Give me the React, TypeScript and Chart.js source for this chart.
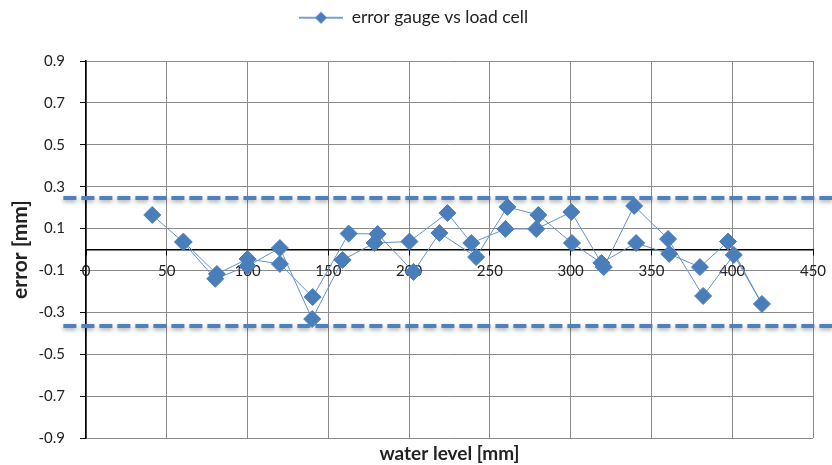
import React, { useEffect, useRef } from "react";
import { Chart, registerables } from "chart.js";

Chart.register(...registerables);

// water level [mm] of each measurement, in acquisition order (up pass, then down pass)
const waterLevel = [
  41, 60, 80, 100, 120, 140, 158.8, 178.6, 200.2, 223.7, 238.5, 259.6, 278.7, 300.4, 320.5, 339.3, 360.3, 382, 401, 418.4,
  397.4, 380, 361, 340.5, 319, 300.8, 280, 260.8, 241.5, 218.8, 202.7, 180.5, 162.6, 140.3, 120, 100, 81, 60.5,
];
// error gauge vs load cell [mm]
const gaugeError = [
  0.165, 0.036, -0.14, -0.079, 0.007, -0.332, -0.05, 0.031, 0.038, 0.174, 0.031, 0.098, 0.098, 0.179, -0.084, 0.208, 0.05, -0.222, -0.026, -0.26,
  0.038, -0.084, -0.021, 0.031, -0.064, 0.031, 0.165, 0.203, -0.036, 0.079, -0.107, 0.074, 0.076, -0.227, -0.069, -0.045, -0.117, 0.036,
];
// dashed limit lines
const upperLimit = 0.246;
const lowerLimit = -0.365;
const limitSpan = [-14, 462];

const yTicks = [-0.9, -0.7, -0.5, -0.3, -0.1, 0.1, 0.3, 0.5, 0.7, 0.9];
const xMin = 0;
const xMax = 450;
const xStep = 50;

const seriesLabel = "error gauge vs load cell";
const xTitle = "water level [mm]";
const yTitle = "error [mm]";

const BLUE = "#4F81BD";
const MARK = "#4A7EBB";
const GRID = "#8a8a8a";
const TEXT = "#222222";
const FONT = "Lato";

const ICON_W = 58;
const ICON_LEAD = 14;

function makeLegendIcon() {
  const c = document.createElement("canvas");
  c.width = ICON_W;
  c.height = 14;
  const ctx = c.getContext("2d")!;
  ctx.strokeStyle = BLUE;
  ctx.lineWidth = 1.5;
  ctx.beginPath();
  ctx.moveTo(ICON_LEAD, 7);
  ctx.lineTo(ICON_W, 7);
  ctx.stroke();
  const cx = ICON_LEAD + (ICON_W - ICON_LEAD) / 2;
  ctx.fillStyle = MARK;
  ctx.beginPath();
  ctx.moveTo(cx, 1);
  ctx.lineTo(cx + 6, 7);
  ctx.lineTo(cx, 13);
  ctx.lineTo(cx - 6, 7);
  ctx.closePath();
  ctx.fill();
  return c;
}

const shadowPlugin = {
  id: "limitShadow",
  beforeDatasetDraw(chart: any, args: any) {
    if (args.index === 0) return;
    const ctx = chart.ctx;
    ctx.save();
    ctx.shadowColor = "rgba(0,0,0,0.35)";
    ctx.shadowBlur = 4;
    ctx.shadowOffsetY = 2;
  },
  afterDatasetDraw(chart: any, args: any) {
    if (args.index === 0) return;
    chart.ctx.restore();
  },
};

export default function App() {
  const ref = useRef<HTMLCanvasElement | null>(null);

  useEffect(() => {
    if (!ref.current) return;
    const points = waterLevel.map((x, i) => ({ x, y: gaugeError[i] }));
    const upper = limitSpan.map((x) => ({ x, y: upperLimit }));
    const lower = limitSpan.map((x) => ({ x, y: lowerLimit }));
    const font = { family: FONT, size: 15 };
    const icon = makeLegendIcon();

    const chart = new Chart(ref.current, {
      type: "scatter",
      data: {
        datasets: [
          {
            label: seriesLabel,
            data: points,
            showLine: true,
            borderColor: "#6690C8",
            borderWidth: 1,
            backgroundColor: MARK,
            pointBackgroundColor: MARK,
            pointBorderColor: MARK,
            pointBorderWidth: 1,
            pointStyle: "rectRot",
            pointRadius: 8.5,
          },
          {
            label: "upper",
            data: upper,
            showLine: true,
            borderColor: BLUE,
            borderWidth: 4,
            borderDash: [13, 5],
            pointRadius: 0,
            clip: false,
          } as any,
          {
            label: "lower",
            data: lower,
            showLine: true,
            borderColor: BLUE,
            borderWidth: 4,
            borderDash: [13, 5],
            pointRadius: 0,
            clip: false,
          } as any,
        ],
      },
      options: {
        animation: false,
        responsive: true,
        maintainAspectRatio: false,
        layout: { padding: { top: 0, right: 19, bottom: 0, left: 0 } },
        plugins: {
          tooltip: { enabled: false },
          legend: {
            position: "top",
            labels: {
              usePointStyle: true,
              pointStyle: icon as any,
              pointStyleWidth: ICON_W,
              padding: 9,
              color: TEXT,
              font: { family: FONT, size: 17.5 },
              filter: (item: any) => item.datasetIndex === 0,
            },
          },
        },
        scales: {
          x: {
            type: "linear",
            min: xMin,
            max: xMax,
            position: { y: 0 } as any,
            afterFit: (s: any) => {
              s.paddingRight = 0;
              s.paddingLeft = 0;
            },
            ticks: { stepSize: xStep, padding: 8, color: TEXT, font },
            grid: { color: GRID, lineWidth: 1, tickLength: 5, tickColor: "#000" },
            border: { color: "#000", width: 1.5 },
          },
          y: {
            type: "linear",
            min: -0.9,
            max: 0.9,
            position: "left",
            afterBuildTicks: (s: any) => {
              s.ticks = yTicks.map((v) => ({ value: v }));
            },
            afterFit: (s: any) => {
              s.width = 86;
            },
            ticks: { padding: 15, color: TEXT, font, callback: (v: any) => String(Math.round(v * 10) / 10) },
            grid: { color: GRID, lineWidth: 1, tickLength: 6, tickColor: "#000" },
            border: { color: "#000", width: 1.5 },
            title: {
              display: true,
              text: yTitle,
              color: TEXT,
              font: { family: FONT, size: 21, weight: "bold" },
              padding: { top: 7.4, bottom: 0 },
            },
          },
          topPad: {
            type: "linear",
            axis: "x",
            position: "top",
            display: true,
            ticks: { display: false },
            grid: { display: false },
            border: { display: false },
            afterFit: (s: any) => {
              s.height = 24.5;
            },
          } as any,
          xTitle: {
            type: "linear",
            axis: "x",
            position: "bottom",
            display: true,
            ticks: { display: false },
            grid: { display: false },
            border: { display: false },
            title: {
              display: true,
              text: xTitle,
              color: TEXT,
              font: { family: FONT, size: 19, weight: "bold" },
              padding: { top: 0, bottom: 0 },
            },
            afterFit: (s: any) => {
              s.height = 27;
            },
          } as any,
        },
      },
      plugins: [shadowPlugin],
    });
    return () => chart.destroy();
  }, []);

  return (
    <div style={{ position: "fixed", left: 0, top: 0, width: 832, height: 465, background: "#fff" }}>
      <canvas ref={ref} />
    </div>
  );
}
